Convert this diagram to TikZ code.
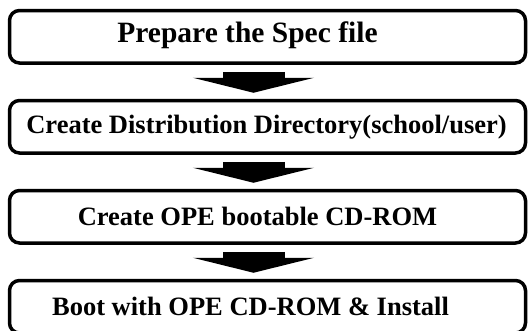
\documentclass[tikz,border=0pt]{standalone}
\usepackage{fontspec}
\setmainfont{Liberation Serif}
\usetikzlibrary{arrows.meta}
\tikzset{
  stepbox/.style={draw, line width=3.5pt, rounded corners=10pt, minimum width=516pt, minimum height=52.5pt, inner sep=0pt},
  steptext/.style={font=\bfseries\fontsize{26.5}{30}\selectfont, inner sep=0pt},
  blockarrow/.style={line width=62pt, -{Triangle[width=121pt,length=15pt]}}
}
\begin{document}
\begin{tikzpicture}[x=1pt,y=-1pt]
\useasboundingbox (0,0) rectangle (531,330);
% the four boxes
\node[stepbox] (b1) at (267.5,36.75) {};
\node[stepbox] (b2) at (267.5,126.75) {};
\node[stepbox] (b3) at (267.5,216.75) {};
\node[stepbox] (b4) at (267.5,306.75) {};
% texts
\node[steptext, font=\bfseries\fontsize{29.5}{33}\selectfont] (t1) at ([xshift=-20pt,yshift=1pt]b1.center) {Prepare the Spec file};
\node[steptext] (t2) at ([xshift=-1pt]b2.center) {Create Distribution Directory(school/user)};
\node[steptext] (t3) at ([xshift=-10pt]b3.center) {Create OPE bootable CD-ROM};
\node[steptext] (t4) at ([xshift=-17pt]b4.center) {Boot with OPE CD-ROM \& Install};
% arrows
\draw[blockarrow] ([xshift=-14pt,yshift=-7pt]b1.south) -- ([xshift=-14pt,yshift=6pt]b2.north);
\draw[blockarrow] ([xshift=-14pt,yshift=-7pt]b2.south) -- ([xshift=-14pt,yshift=6pt]b3.north);
\draw[blockarrow] ([xshift=-14pt,yshift=-7pt]b3.south) -- ([xshift=-14pt,yshift=6pt]b4.north);
\end{tikzpicture}
\end{document}
